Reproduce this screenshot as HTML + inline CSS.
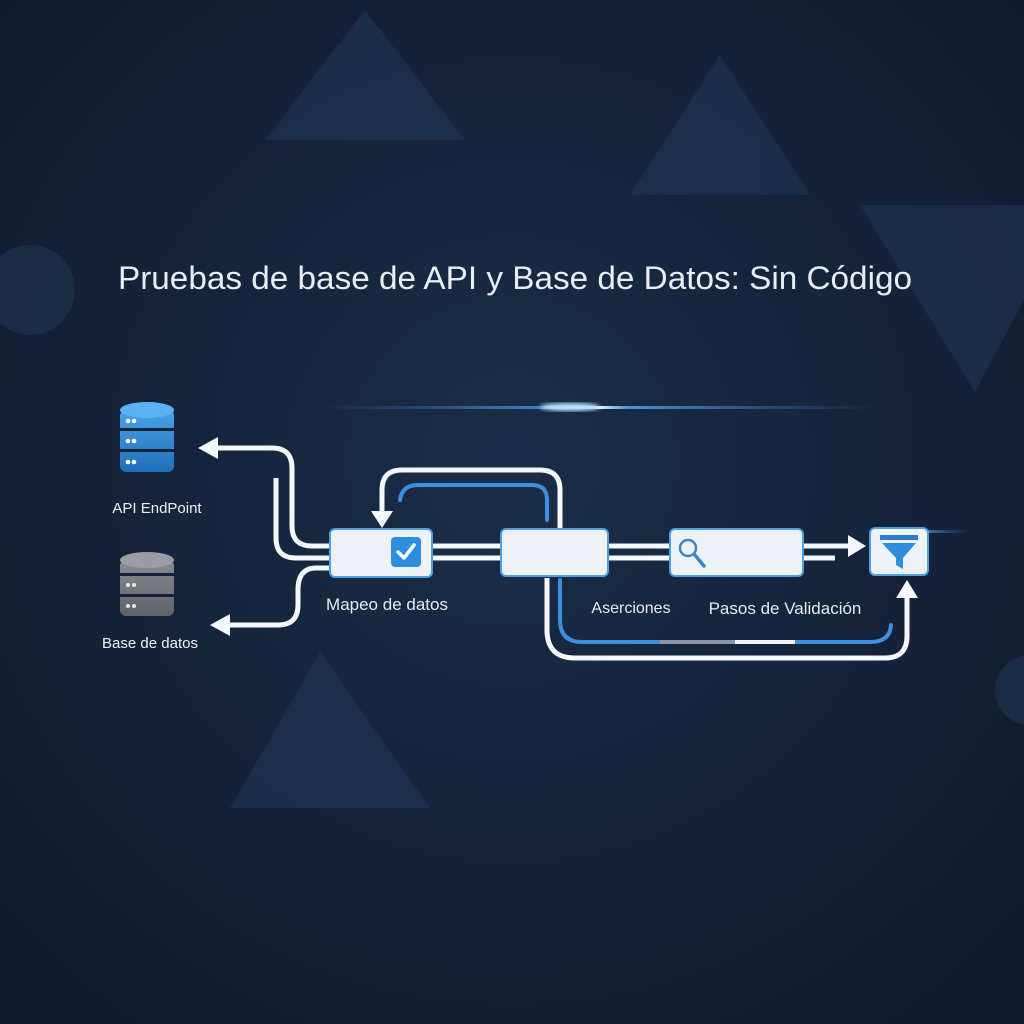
<!DOCTYPE html>
<html><head><meta charset="utf-8"><style>
html,body{margin:0;padding:0;background:#131d33;}
svg{display:block}
text{font-family:"Liberation Sans","DejaVu Sans",sans-serif;}
</style></head><body>
<svg width="1024" height="1024" viewBox="0 0 1024 1024" xmlns="http://www.w3.org/2000/svg">
<defs>
<radialGradient id="bg" cx="50%" cy="45%" r="70%">
<stop offset="0" stop-color="#1a2d48"/><stop offset="0.6" stop-color="#152239"/><stop offset="1" stop-color="#11182b"/>
</radialGradient>
<linearGradient id="glow" x1="0" x2="1">
<stop offset="0" stop-color="#3a78c0" stop-opacity="0"/><stop offset="0.45" stop-color="#5aa8ff" stop-opacity="0.8"/><stop offset="0.5" stop-color="#d8f0ff"/><stop offset="0.55" stop-color="#5aa8ff" stop-opacity="0.8"/><stop offset="1" stop-color="#3a78c0" stop-opacity="0"/>
</linearGradient>
<linearGradient id="dbb" x1="0" x2="0" y1="0" y2="1"><stop offset="0" stop-color="#4aa3e8"/><stop offset="1" stop-color="#1f6fb8"/></linearGradient>
<linearGradient id="dbg" x1="0" x2="0" y1="0" y2="1"><stop offset="0" stop-color="#8a8d92"/><stop offset="1" stop-color="#5e6167"/></linearGradient>
<filter id="bl2"><feGaussianBlur stdDeviation="2"/></filter>
</defs>
<rect width="1024" height="1024" fill="url(#bg)"/>
<g fill="#1e3250" opacity="0.65">
<polygon points="365,10 465,140 265,140"/>
<polygon points="720,55 810,195 630,195"/>
<polygon points="860,205 1024,205 1024,300 975,392"/>
<polygon points="320,652 430,808 230,808"/>
<circle cx="30" cy="290" r="45"/>
<circle cx="1030" cy="690" r="35"/>
</g>
<text x="118" y="289" textLength="794" lengthAdjust="spacingAndGlyphs" font-size="32" fill="#e8eef6">Pruebas de base de API y Base de Datos: Sin Código</text>
<rect x="320" y="406" width="560" height="3" fill="url(#glow)"/>
<ellipse cx="570" cy="407" rx="30" ry="4" fill="#bfe6ff" filter="url(#bl2)"/>
<rect x="880" y="530" width="90" height="3" fill="url(#glow)" opacity="0.7"/>
<g>
<rect x="120" y="410" width="54" height="62" rx="6" fill="url(#dbb)"/>
<ellipse cx="147" cy="410" rx="27" ry="8" fill="#5ab3f0"/>
<rect x="118" y="428" width="58" height="3" fill="#13223a"/>
<rect x="118" y="449" width="58" height="3" fill="#13223a"/>
<g fill="#fff"><circle cx="128" cy="421" r="2.3"/><circle cx="134" cy="421" r="2.3"/><circle cx="128" cy="441" r="2.3"/><circle cx="134" cy="441" r="2.3"/><circle cx="128" cy="462" r="2.3"/><circle cx="134" cy="462" r="2.3"/></g>
</g>
<g>
<rect x="120" y="560" width="54" height="56" rx="6" fill="url(#dbg)"/>
<ellipse cx="147" cy="560" rx="27" ry="8" fill="#9a9da2"/>
<rect x="118" y="573" width="58" height="3" fill="#13223a"/>
<rect x="118" y="594" width="58" height="3" fill="#13223a"/>
<g fill="#e8e8e8"><circle cx="128" cy="585" r="2"/><circle cx="134" cy="585" r="2"/><circle cx="128" cy="606" r="2"/><circle cx="134" cy="606" r="2"/></g>
</g>
<text x="157" y="513" text-anchor="middle" font-size="15" fill="#eef2f8">API EndPoint</text>
<text x="150" y="648" text-anchor="middle" font-size="15" fill="#eef2f8">Base de datos</text>
<g fill="none" stroke="#f4f7fb" stroke-width="5" stroke-linecap="butt">
<path d="M332,546 H312 Q292,546 292,526 V468 Q292,448 272,448 H218"/>
<path d="M276,478 V538 Q276,558 296,558 H332"/>
<path d="M332,568 H316 Q298,568 298,590 V605 Q298,625 278,625 H228"/>
<path d="M430,546 H503 M430,558 H503"/>
<path d="M606,546 H672 M606,558 H672"/>
<path d="M801,546 H848 M801,558 H835"/>
<path d="M560,530 V490 Q560,470 540,470 H402 Q382,470 382,490 V512"/>
<path d="M547,578 V630 Q547,658 575,658 H885 Q907,658 907,636 V598"/>
</g>
<g fill="#f4f7fb">
<polygon points="198,448 218,437 218,459"/>
<polygon points="210,625 230,614 230,636"/>
<polygon points="382,528 371,511 393,511"/>
<polygon points="866,546 848,535 848,557"/>
<polygon points="907,580 896,598 918,598"/>
</g>
<g fill="none" stroke="#3d8fe0" stroke-width="4" stroke-linecap="round">
<path d="M400,500 Q402,485 418,485 H532 Q547,485 547,500 V520"/>
<path d="M560,580 V620 Q560,642 582,642 H660"/>
<path d="M795,642 H870 Q890,642 891,625"/>
</g>
<path d="M660,642 H735" stroke="#8a96a8" stroke-width="4"/>
<path d="M735,642 H795" stroke="#f2f4f8" stroke-width="4"/>
<g stroke="#4aa0e0" stroke-width="2">
<rect x="330" y="529" width="102" height="48" rx="5" fill="#eef1f5" />
<rect x="501" y="529" width="107" height="47" rx="5" fill="#eef1f5"/>
<rect x="670" y="529" width="133" height="47" rx="5" fill="#eef1f5"/>
<rect x="870" y="528" width="58" height="47" rx="5" fill="#eef1f5"/>
</g>
<rect x="391" y="537" width="30" height="30" rx="4" fill="#2f8de0"/>
<path d="M398,552 L404,558 L414,545" fill="none" stroke="#fff" stroke-width="3.5" stroke-linecap="round" stroke-linejoin="round"/>
<circle cx="688" cy="548" r="8" fill="none" stroke="#3a86c8" stroke-width="2.5"/>
<path d="M694,554 L704,566" stroke="#3a86c8" stroke-width="3.5" stroke-linecap="round"/>
<rect x="880" y="535" width="38" height="5" fill="#2a7ccc"/>
<polygon points="882,543 916,543 903,558 903,569 896,565 896,558" fill="#2f8de0"/>
<text x="387" y="610" text-anchor="middle" font-size="17" fill="#e6ebf3">Mapeo de datos</text>
<text x="631" y="613" text-anchor="middle" font-size="16" fill="#e6ebf3">Aserciones</text>
<text x="785" y="614" text-anchor="middle" font-size="17" fill="#e6ebf3">Pasos de Validación</text>
</svg>
</body></html>
